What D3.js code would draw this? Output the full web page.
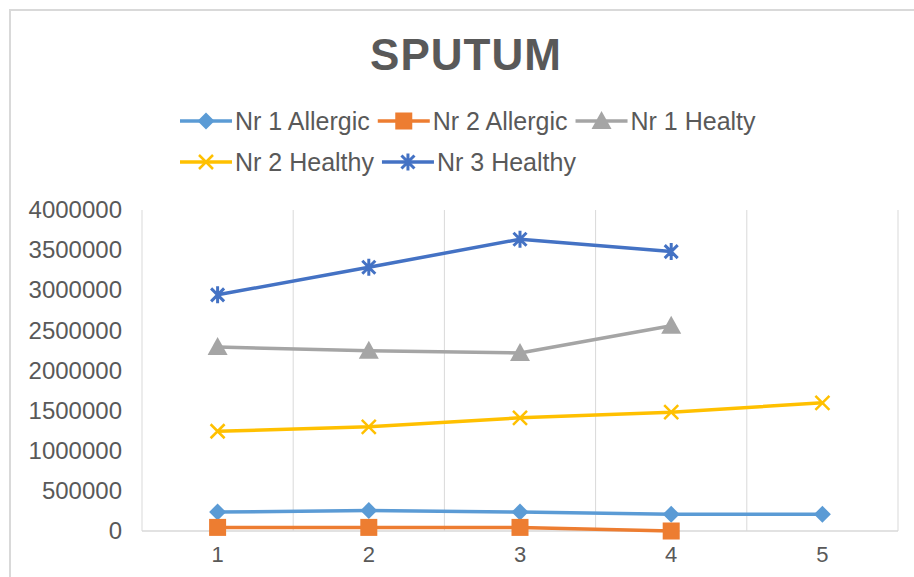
<!DOCTYPE html>
<html>
<head>
<meta charset="utf-8">
<script src="https://cdn.jsdelivr.net/npm/d3@7"></script>
<style>
  body { margin: 0; background: #fff; }
  text { font-family: "Liberation Sans", Arial, sans-serif; fill: #595959; }
</style>
</head>
<body>
<div id="chart"></div>
<script>
var categories = [1, 2, 3, 4, 5];
var yTicks = [0, 500000, 1000000, 1500000, 2000000, 2500000, 3000000, 3500000, 4000000];

var nr1Allergic = [236000, 254000, 236000, 208000, 208000];
var nr2Allergic = [45000, 45000, 45000, 0];
var nr1Healty   = [2293000, 2247000, 2218000, 2558000];
var nr2Healthy  = [1243000, 1298000, 1410000, 1480000, 1597000];
var nr3Healthy  = [2943000, 3287000, 3636000, 3482000];

var seriesNames  = ["Nr 1 Allergic", "Nr 2 Allergic", "Nr 1 Healty", "Nr 2 Healthy", "Nr 3 Healthy"];
var seriesValues = [nr1Allergic, nr2Allergic, nr1Healty, nr2Healthy, nr3Healthy];
var seriesColors = ["#5B9BD5", "#ED7D31", "#A5A5A5", "#FFC000", "#4472C4"];
var seriesMarkers = ["diamond", "square", "triangle", "x", "star"];

var W = 914, H = 577;
var margin = {top: 210, right: 16, bottom: 46, left: 142};
var width = W - margin.left - margin.right,
    height = H - margin.top - margin.bottom;

var svg = d3.select("#chart").append("svg")
  .attr("width", W)
  .attr("height", H);

// chart border
svg.append("rect")
  .attr("x", 10).attr("y", 10)
  .attr("width", W + 10).attr("height", H + 10)
  .attr("fill", "none")
  .attr("stroke", "#d9d9d9")
  .attr("stroke-width", 2);

svg.append("text")
  .attr("x", 466).attr("y", 70)
  .attr("text-anchor", "middle")
  .style("font-size", "44px")
  .style("font-weight", "bold")
  .style("letter-spacing", "1px")
  .text("SPUTUM");

var g = svg.append("g")
  .attr("transform", "translate(" + margin.left + "," + margin.top + ")");

var x = d3.scaleBand()
  .domain(categories)
  .range([0, width]);
var y = d3.scaleLinear()
  .domain([0, 4000000])
  .range([height, 0]);

// vertical grid lines at category boundaries
var bounds = categories.map(function(c) { return x(c); }).concat([width]);
g.selectAll(".vgrid")
  .data(bounds)
  .enter().append("line")
  .attr("x1", function(d) { return d; })
  .attr("x2", function(d) { return d; })
  .attr("y1", 0).attr("y2", height)
  .attr("stroke", "#d9d9d9")
  .attr("stroke-width", 1);

g.append("line")
  .attr("x1", 0).attr("x2", width)
  .attr("y1", height).attr("y2", height)
  .attr("stroke", "#d9d9d9")
  .attr("stroke-width", 1.5);

// y axis labels
var yAxis = g.append("g")
  .call(d3.axisLeft(y).tickValues(yTicks).tickSize(0).tickPadding(20).tickFormat(d3.format("d")));
yAxis.select(".domain").remove();
yAxis.selectAll("text")
  .style("font-size", "24px")
  .style("fill", "#595959")
  .style("font-family", "'Liberation Sans', Arial, sans-serif");

// x axis labels
var xAxis = g.append("g")
  .attr("transform", "translate(0," + height + ")")
  .call(d3.axisBottom(x).tickSize(0).tickPadding(15));
xAxis.select(".domain").remove();
xAxis.selectAll("text")
  .style("font-size", "22px")
  .style("fill", "#595959")
  .style("font-family", "'Liberation Sans', Arial, sans-serif");

function drawMarker(sel, type, color) {
  if (type == "diamond") {
    sel.append("path").attr("d", "M0,-8.5L8.5,0L0,8.5L-8.5,0Z").attr("fill", color);
  }
  else if (type == "square") {
    sel.append("rect").attr("x", -8.5).attr("y", -8.5).attr("width", 17).attr("height", 17).attr("fill", color);
  }
  else if (type == "triangle") {
    sel.append("path").attr("d", "M0,-10L10,8L-10,8Z").attr("fill", color);
  }
  else if (type == "x") {
    sel.append("path").attr("d", "M-7,-7L7,7M7,-7L-7,7")
      .attr("stroke", color).attr("stroke-width", 2.5).attr("fill", "none");
  }
  else if (type == "star") {
    sel.append("path").attr("d", "M-6.5,-6.5L6.5,6.5M6.5,-6.5L-6.5,6.5M0,-8.5L0,8.5")
      .attr("stroke", color).attr("stroke-width", 3).attr("fill", "none");
  }
}

var line = d3.line()
  .x(function(d, i) { return x(categories[i]) + x.bandwidth() / 2; })
  .y(function(d) { return y(d); });

for (var s = 0; s < seriesValues.length; s++) {
  var vals = seriesValues[s];
  g.append("path")
    .datum(vals)
    .attr("fill", "none")
    .attr("stroke", seriesColors[s])
    .attr("stroke-width", 3.5)
    .attr("stroke-linejoin", "round")
    .attr("stroke-linecap", "round")
    .attr("d", line);
  for (var i = 0; i < vals.length; i++) {
    var m = g.append("g")
      .attr("transform", "translate(" + (x(categories[i]) + x.bandwidth() / 2) + "," + y(vals[i]) + ")");
    drawMarker(m, seriesMarkers[s], seriesColors[s]);
  }
}

// legend, two rows
var legendRows = [[0, 1, 2], [3, 4]];
var rowY = [121, 162];
for (var r = 0; r < legendRows.length; r++) {
  var lx = 180;
  for (var k = 0; k < legendRows[r].length; k++) {
    var idx = legendRows[r][k];
    var lg = svg.append("g").attr("transform", "translate(" + lx + "," + rowY[r] + ")");
    lg.append("line")
      .attr("x1", 0).attr("x2", 52)
      .attr("stroke", seriesColors[idx])
      .attr("stroke-width", 3.5);
    var mk = lg.append("g").attr("transform", "translate(26,0)");
    drawMarker(mk, seriesMarkers[idx], seriesColors[idx]);
    var t = lg.append("text")
      .attr("x", 55).attr("dy", "0.35em")
      .style("font-size", "25px")
      .text(seriesNames[idx]);
    lx += 55 + t.node().getComputedTextLength() + 8;
  }
}
</script>
</body>
</html>
